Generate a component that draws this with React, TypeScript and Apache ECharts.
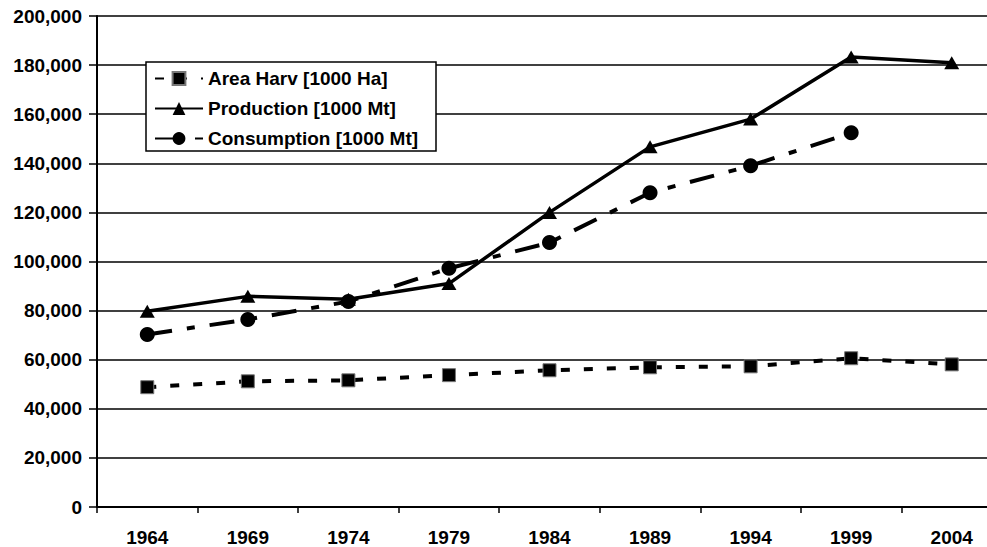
import React, { useEffect, useRef } from "react";
import * as echarts from "echarts";

const categories = ["1964", "1969", "1974", "1979", "1984", "1989", "1994", "1999", "2004"];
const areaHarv = [48800, 51200, 51600, 53700, 55700, 56900, 57300, 60600, 58100];
const production = [79700, 85800, 84600, 91000, 120000, 146700, 158000, 183300, 181000];
const consumption = [70300, 76400, 83700, 97200, 107700, 128000, 139000, 152400, null];
const seriesNames = ["Area Harv [1000 Ha]", "Production [1000 Mt]", "Consumption [1000 Mt]"];

const FONT = "'Liberation Sans', Arial, sans-serif";

export default function App() {
  const ref = useRef<HTMLDivElement>(null);
  useEffect(() => {
    if (!ref.current) return;
    const chart = echarts.init(ref.current, undefined, { renderer: "svg" });
    const txt = { fontFamily: FONT, fontWeight: "bold" as const, fontSize: 19, color: "#000" };
    chart.setOption({
      animation: false,
      backgroundColor: "#fff",
      grid: { left: 97, top: 16, width: 905, height: 492, containLabel: false },
      xAxis: {
        type: "category",
        data: categories,
        boundaryGap: true,
        axisLine: { show: true, lineStyle: { color: "#000", width: 2 } },
        axisTick: { show: true, length: 6, interval: 0, lineStyle: { color: "#000", width: 1.5 } },
        axisLabel: { ...txt, margin: 21, interval: 0 },
        splitLine: { show: false },
      },
      yAxis: {
        type: "value",
        min: 0,
        max: 200000,
        interval: 20000,
        axisLine: { show: true, lineStyle: { color: "#000", width: 2 } },
        axisTick: { show: true, length: 8, lineStyle: { color: "#000", width: 1.5 } },
        axisLabel: {
          ...txt,
          margin: 15,
          formatter: (v: number) => v.toLocaleString("en-US"),
        },
        splitLine: { show: true, lineStyle: { color: "#000", width: 1.6 } },
      },
      legend: {
        orient: "vertical",
        left: 146,
        top: 62,
        z: 10,
        itemWidth: 48,
        itemHeight: 16,
        itemGap: 11,
        padding: [7, 8, 7, 8],
        textStyle: { ...txt },
        data: seriesNames,
      },
      graphic: [
        {
          type: "rect",
          z: 3,
          shape: { x: 146, y: 62, width: 290, height: 89 },
          style: { fill: "#fff", stroke: "#000", lineWidth: 1.5 },
        },
      ],
      series: [
        {
          name: seriesNames[0],
          type: "line",
          data: areaHarv,
          symbol: "rect",
          symbolSize: 13,
          z: 4,
          itemStyle: { color: "#000", borderColor: "#777", borderWidth: 1 },
          lineStyle: { color: "#000", width: 4, type: [9, 14] },
        },
        {
          name: seriesNames[1],
          type: "line",
          data: production,
          symbol: "triangle",
          symbolSize: [15, 13],
          z: 4,
          itemStyle: { color: "#000" },
          lineStyle: { color: "#000", width: 3.5 },
        },
        {
          name: seriesNames[2],
          type: "line",
          data: consumption,
          symbol: "circle",
          symbolSize: 15,
          z: 5,
          itemStyle: { color: "#000" },
          lineStyle: { color: "#000", width: 4, type: [25, 15, 8, 15] },
        },
      ],
    });
    return () => chart.dispose();
  }, []);
  return (
    <div
      style={{ position: "fixed", left: 0, top: 0, width: 987, height: 547, overflow: "hidden", background: "#fff" }}
    >
      <div ref={ref} style={{ width: 1010, height: 547 }} />
    </div>
  );
}
